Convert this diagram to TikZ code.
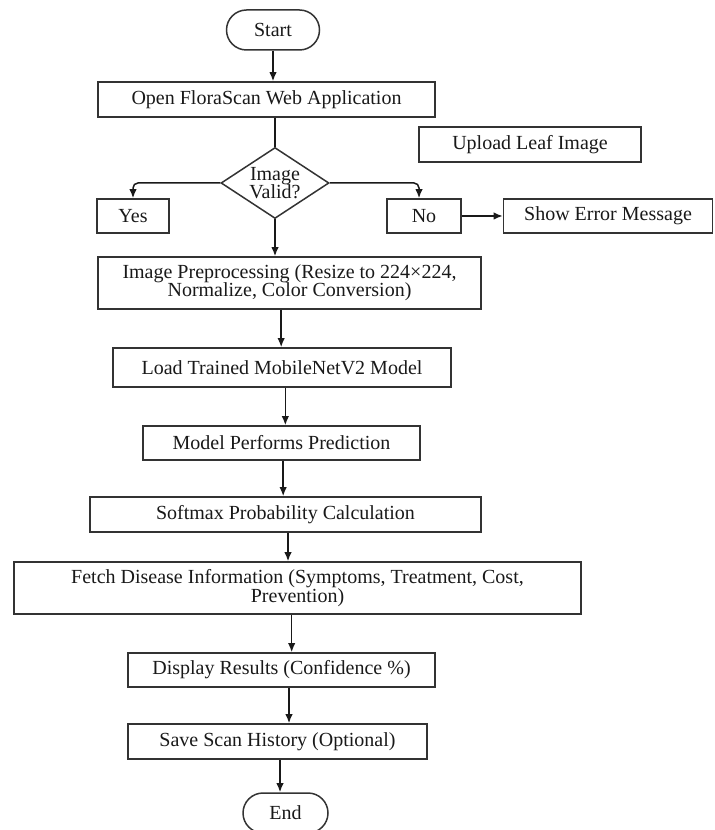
\documentclass[tikz,border=0pt]{standalone}
\usepackage{fontspec}
\setmainfont{Liberation Serif}
\usetikzlibrary{shapes.geometric,arrows.meta}
\colorlet{linegray}{black!80}
\tikzstyle{box}=[draw=linegray,rectangle,line width=0.9pt,align=center,
inner sep=1pt,font=\fontsize{12}{11}\selectfont,text=black!90]
\tikzstyle{term}=[box,rounded corners=12pt,minimum width=55.8pt,minimum height=24pt]
\tikzstyle{decision}=[box,diamond,aspect=1.52,inner sep=0pt,minimum width=64.8pt,
minimum height=42.6pt]
\tikzstyle{arr}=[draw=black!90,line width=0.9pt,-{Latex[length=5.5pt,width=4.5pt]}]

\begin{document}
\begin{tikzpicture}[x=0.6pt,y=-0.6pt]
  \useasboundingbox (0,0) rectangle (714,830);

  % main column
  \node[term] (start) at (273,30) {Start};
  \node[box, minimum width=202.2pt, minimum height=21pt] (open) at (266.5,99.5)
    {Open FloraScan Web Application};
  \node[box, minimum width=133.2pt, minimum height=21pt] (upload) at (530,144.5)
    {Upload Leaf Image};
  \node[decision] (valid) at (275,183) {Image\\Valid?};
  \node[box, minimum width=43.2pt, minimum height=20.4pt] (yes) at (133,216) {Yes};
  \node[box, minimum width=44.4pt, minimum height=20.4pt] (no) at (424,216) {No};
  \node[box, minimum width=125.4pt, minimum height=20.4pt] (error) at (608,216)
    {Show Error Message};
  \node[box, minimum width=229.8pt, minimum height=31.2pt] (prep) at (289.5,283)
    {Image Preprocessing (Resize to 224×224,\\Normalize, Color Conversion)};
  \node[box, minimum width=202.8pt, minimum height=23.4pt] (load) at (282,367.5)
    {Load Trained MobileNetV2 Model};
  \node[box, minimum width=166.2pt, minimum height=20.4pt] (predict) at (281.5,443)
    {Model Performs Prediction};
  \node[box, minimum width=234.6pt, minimum height=21pt] (softmax) at (285.5,514.5)
    {Softmax Probability Calculation};
  \node[box, minimum width=340.2pt, minimum height=31.2pt] (fetch) at (297.5,588)
    {Fetch Disease Information (Symptoms, Treatment, Cost,\\Prevention)};
  \node[box, minimum width=184.2pt, minimum height=20.4pt] (display) at (281.5,670)
    {Display Results (Confidence \%)};
  \node[box, minimum width=179.4pt, minimum height=21pt] (save) at (277.5,741.5)
    {Save Scan History (Optional)};
  \node[term, minimum width=51pt] (end) at (285.5,813) {End};

  % connectors
  \draw[arr] (start.south) -- (start.south |- open.north);
  \draw[draw=black!90,line width=0.9pt] (valid.north |- open.south) -- (valid.north);
  \draw[arr, rounded corners=3pt] (valid.west) -| (yes.north);
  \draw[arr, rounded corners=3pt] (valid.east) -| ([xshift=-3pt]no.north);
  \draw[arr] (no.east) -- (error.west);
  \draw[arr] (valid.south) -- (valid.south |- prep.north);
  \draw[arr] ([xshift=-5pt]prep.south) -- ([xshift=-5pt]prep.south |- load.north);
  \draw[arr] ([xshift=2pt]load.south) -- ([xshift=2pt]load.south |- predict.north);
  \draw[arr] ([xshift=1pt]predict.south) -- ([xshift=1pt]predict.south |- softmax.north);
  \draw[arr] ([xshift=1.5pt]softmax.south) -- ([xshift=1.5pt]softmax.south |- fetch.north);
  \draw[arr] ([xshift=-3.5pt]fetch.south) -- ([xshift=-3.5pt]fetch.south |- display.north);
  \draw[arr] ([xshift=4.5pt]display.south) -- ([xshift=4.5pt]display.south |- save.north);
  \draw[arr] ([xshift=1.5pt]save.south) -- ([xshift=1.5pt]save.south |- end.north);
\end{tikzpicture}
\end{document}
